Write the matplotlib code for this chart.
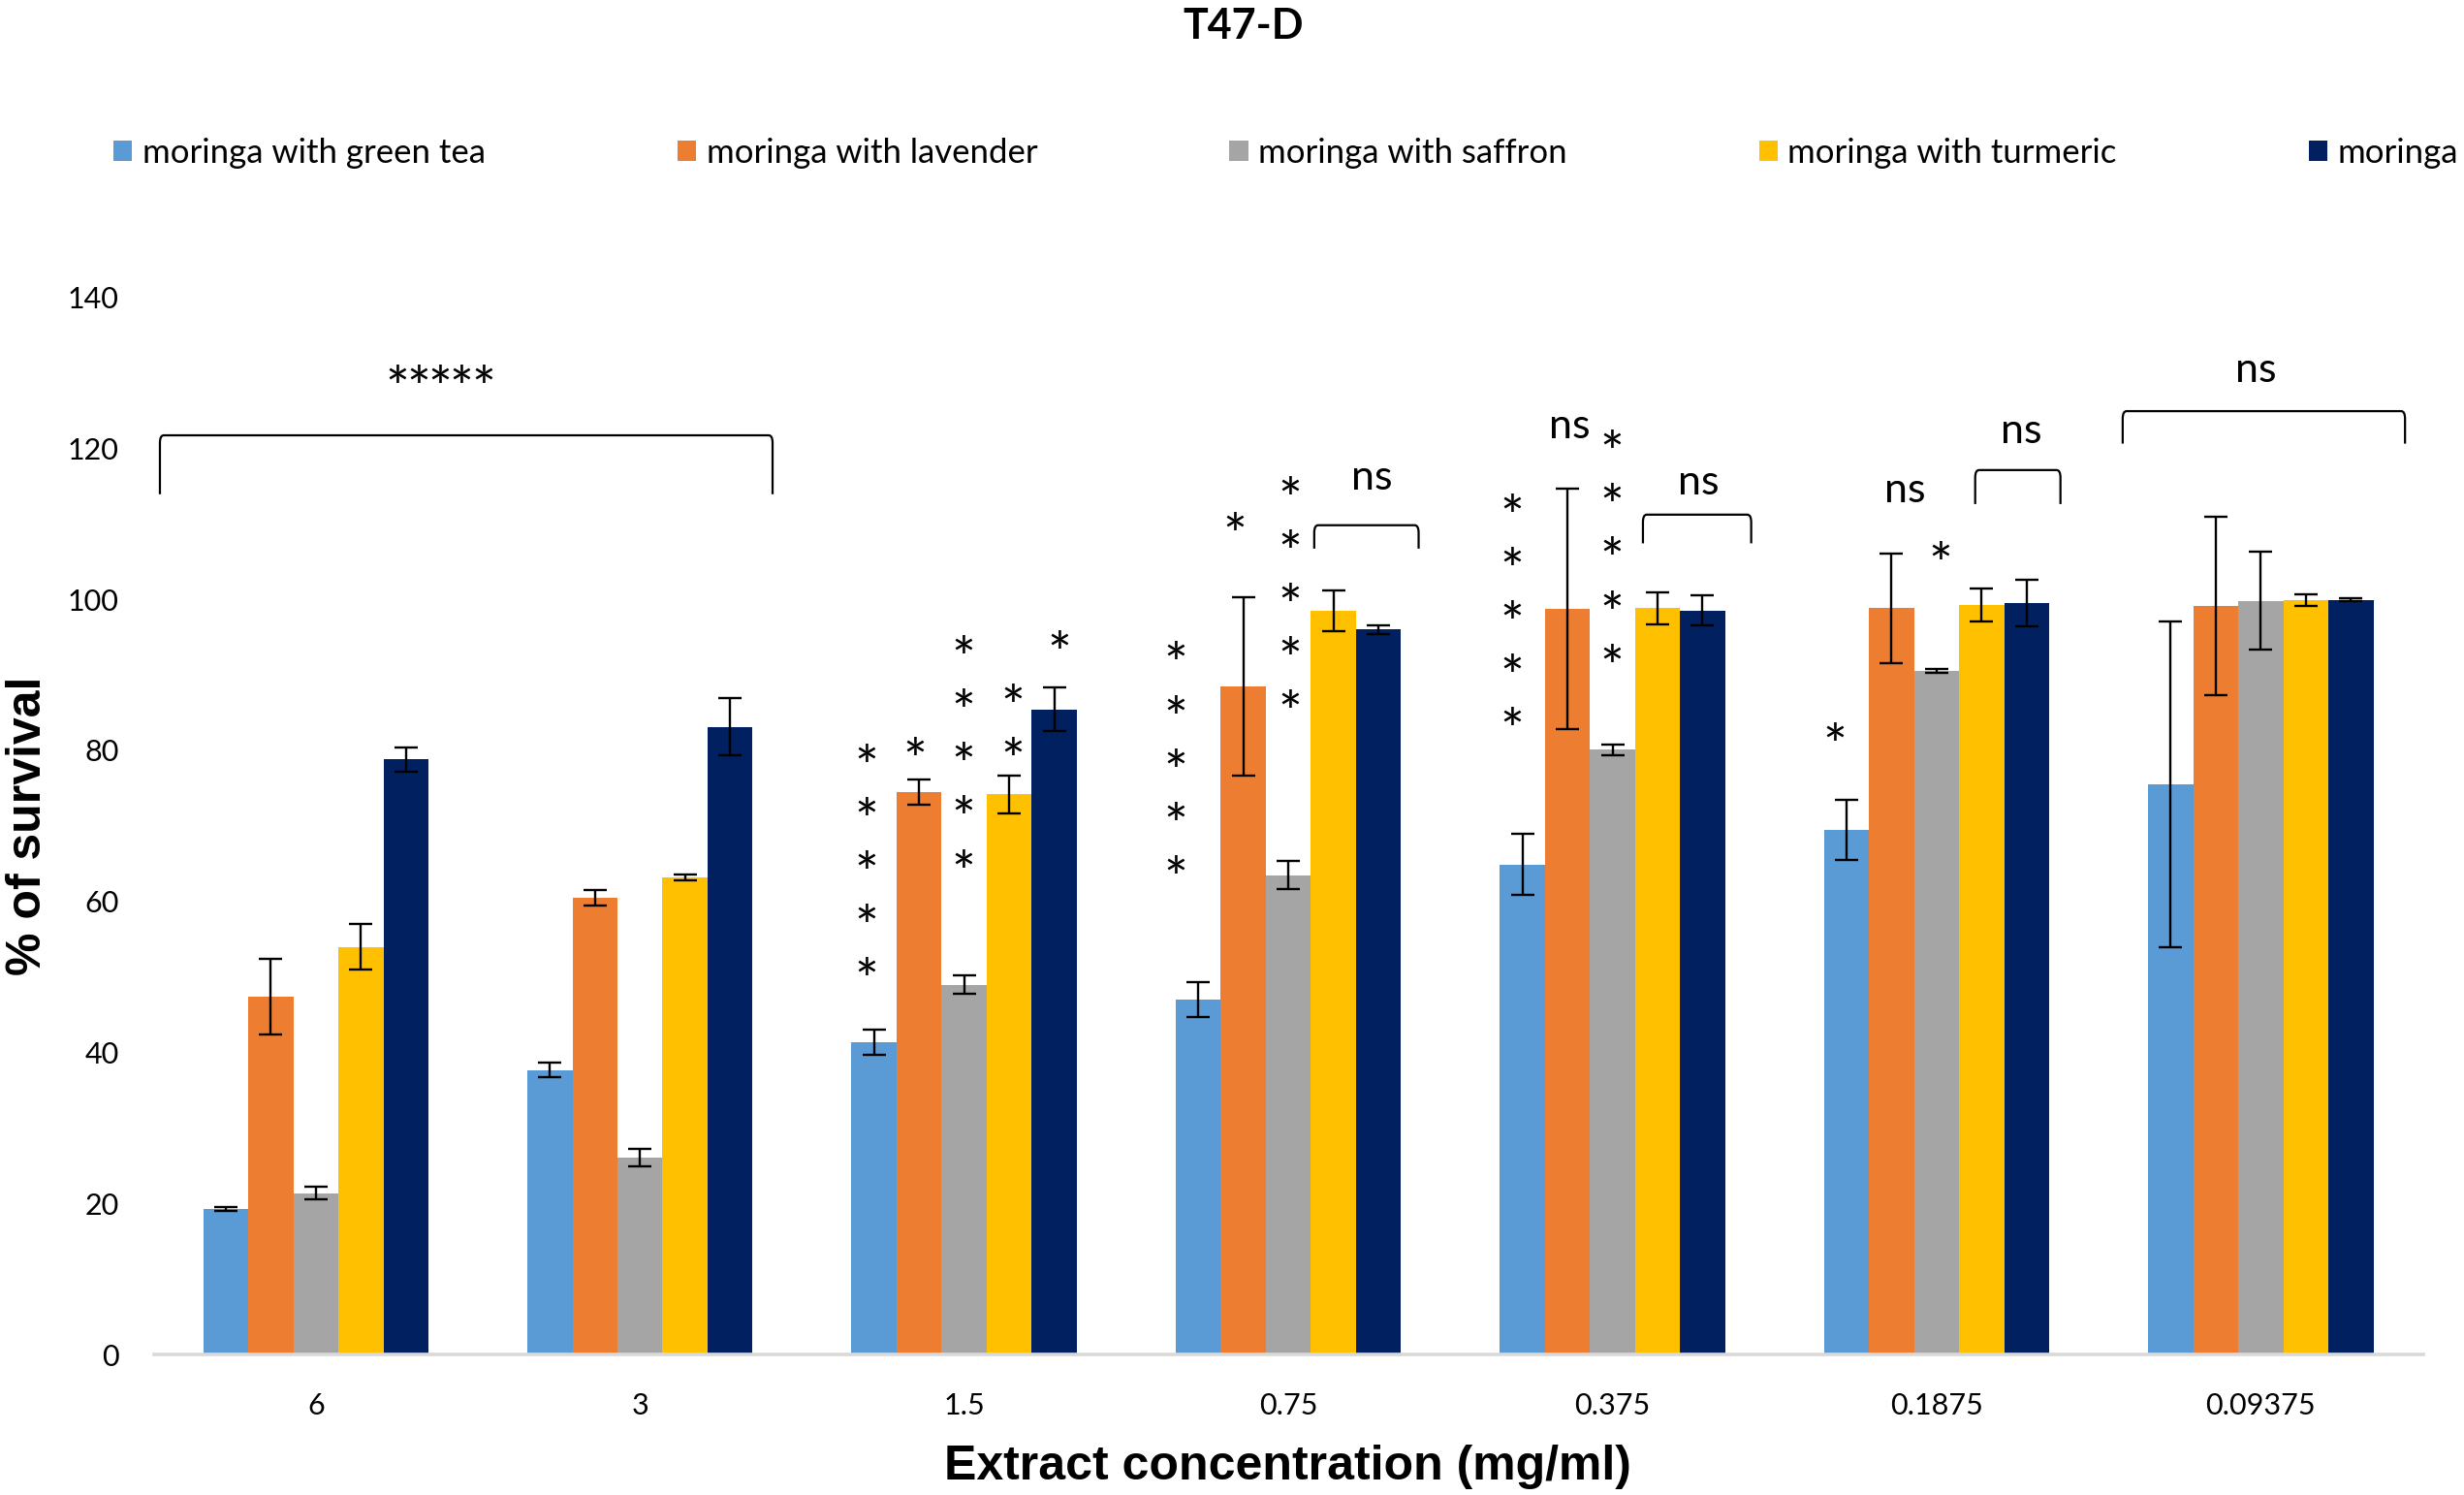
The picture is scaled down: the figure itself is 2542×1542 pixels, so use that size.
import numpy as np
import matplotlib
matplotlib.use('Agg')
import matplotlib.pyplot as plt
from matplotlib.path import Path
from matplotlib.patches import PathPatch
from matplotlib.transforms import offset_copy

# Data
concentrations = ['6', '3', '1.5', '0.75', '0.375', '0.1875', '0.09375']
series_names = ['moringa with green tea', 'moringa with lavender',
                'moringa with saffron', 'moringa with turmeric', 'moringa']

green_tea = [19.3, 37.7, 41.4, 47.0, 64.9, 69.5, 75.5]
green_tea_err = [0.2, 1.0, 1.65, 2.3, 4.0, 4.0, 21.6]
lavender = [47.4, 60.5, 74.5, 88.5, 98.7, 98.8, 99.1]
lavender_err = [5.0, 1.0, 1.65, 11.8, 15.9, 7.2, 11.8]
saffron = [21.4, 26.1, 49.0, 63.5, 80.1, 90.5, 99.8]
saffron_err = [0.8, 1.1, 1.2, 1.9, 0.7, 0.3, 6.5]
turmeric = [54.0, 63.2, 74.2, 98.5, 98.8, 99.2, 99.9]
turmeric_err = [3.0, 0.4, 2.5, 2.7, 2.1, 2.2, 0.8]
moringa = [78.8, 83.1, 85.4, 96.0, 98.5, 99.5, 99.9]
moringa_err = [1.6, 3.8, 2.9, 0.6, 2.0, 3.1, 0.2]

values = [green_tea, lavender, saffron, turmeric, moringa]
errors = [green_tea_err, lavender_err, saffron_err, turmeric_err, moringa_err]
colors = ['#5B9BD5', '#ED7D31', '#A5A5A5', '#FFC000', '#002060']

# significance marks: (x, y of lowest star, number of stars)
star_columns = [(1.699, 51.6, 5), (1.848, 80.7, 1), (1.997, 65.9, 5),
                (2.150, 80.7, 2), (2.293, 94.9, 1),
                (2.651, 65.1, 5), (2.836, 110.5, 1), (3.006, 87.0, 5),
                (3.691, 84.7, 5), (3.999, 93.1, 5),
                (4.685, 82.7, 1), (5.013, 106.6, 1)]
# horizontal row of stars over the first bracket: (x centre, y, count)
star_row = (0.384, 130.0, 5)
ns_labels = [(3.257, 116.1), (3.868, 122.9), (4.266, 115.4),
             (4.902, 114.4), (5.261, 122.2), (5.986, 130.3)]
brackets = [(-0.481, 1.409, 121.7, 113.9), (3.080, 3.402, 109.8, 106.7),
            (4.094, 4.428, 111.2, 107.4), (5.119, 5.382, 117.1, 112.6),
            (5.574, 6.445, 124.9, 120.6)]
STAR_STEP = 7.07
STAR_GAP_X = 0.066

BODY_FONT = 'Lato'
LABEL_FONT = 'Liberation Sans'
STAR_SIZE = 42


def draw_bracket(ax, x0, x1, ytop, ybot, rx=0.012, ry=1.0):
    verts = [(x0, ybot), (x0, ytop - ry), (x0, ytop), (x0 + rx, ytop),
             (x1 - rx, ytop), (x1, ytop), (x1, ytop - ry), (x1, ybot)]
    codes = [Path.MOVETO, Path.LINETO, Path.CURVE3, Path.CURVE3,
             Path.LINETO, Path.CURVE3, Path.CURVE3, Path.LINETO]
    ax.add_patch(PathPatch(Path(verts, codes), fill=False, lw=1.6,
                           edgecolor='black', clip_on=False))


fig = plt.figure(figsize=(25.42, 15.42), dpi=100)
ax = fig.add_axes([0.0624, 0.0938, 0.9209, 0.7075])

x = np.arange(len(concentrations))
width = 0.139
for i, (vals, errs, col, name) in enumerate(zip(values, errors, colors, series_names)):
    ax.bar(x + (i - 2) * width, vals, width, color=col, label=name,
           yerr=errs, error_kw=dict(ecolor='black', elinewidth=1.7,
                                    capsize=8.5, capthick=1.7))

ax.set_xlim(-0.5, len(concentrations) - 0.5)
ax.set_ylim(0, 140)
ax.set_yticks(np.arange(0, 141, 20))
ax.set_xticks(x)
ax.set_xticklabels(concentrations)
ax.tick_params(axis='both', length=0, labelsize=22)
ax.tick_params(axis='y', pad=26)
ax.tick_params(axis='x', pad=28)
for lab in ax.get_xticklabels() + ax.get_yticklabels():
    lab.set_family(BODY_FONT)
for side in ['top', 'right', 'left']:
    ax.spines[side].set_visible(False)
ax.spines['bottom'].set_color('#D9D9D9')
ax.spines['bottom'].set_linewidth(2.6)

# star stacks, shifted down so the glyph centre sits on the given point
star_tr = offset_copy(ax.transData, fig=fig, x=0, y=-0.33 * STAR_SIZE,
                      units='points')
for sx, sy, n in star_columns:
    for k in range(n):
        ax.text(sx, sy + k * STAR_STEP, '*', transform=star_tr, ha='center',
                va='center', fontsize=STAR_SIZE, family=BODY_FONT)
rx, ry, rn = star_row
for k in range(rn):
    ax.text(rx + (k - (rn - 1) / 2) * STAR_GAP_X, ry, '*', transform=star_tr,
            ha='center', va='center', fontsize=STAR_SIZE, family=BODY_FONT)
for nx, ny in ns_labels:
    ax.text(nx, ny, 'ns', ha='center', va='center', fontsize=31,
            family=BODY_FONT)
for b in brackets:
    draw_bracket(ax, *b)

fig.text(0.5047, 0.9825, 'T47-D', ha='center', va='center', fontsize=31,
         fontweight='bold', family=BODY_FONT)
fig.text(0.0114, 0.4475, '% of survival', rotation=90, ha='center',
         va='center', fontsize=36, fontweight='bold', family=LABEL_FONT)
fig.text(0.5226, 0.0185, 'Extract concentration (mg/ml)', ha='center',
         va='center', fontsize=36, fontweight='bold', family=LABEL_FONT)

leg = fig.legend(loc='center left', bbox_to_anchor=(0.046, 0.8975), ncol=5,
                 frameon=False, prop={'family': BODY_FONT, 'size': 25},
                 handlelength=0.56, handleheight=0.56, handletextpad=0.3,
                 columnspacing=5.7, borderaxespad=0, borderpad=0)

fig.savefig('out.png', dpi=100)
